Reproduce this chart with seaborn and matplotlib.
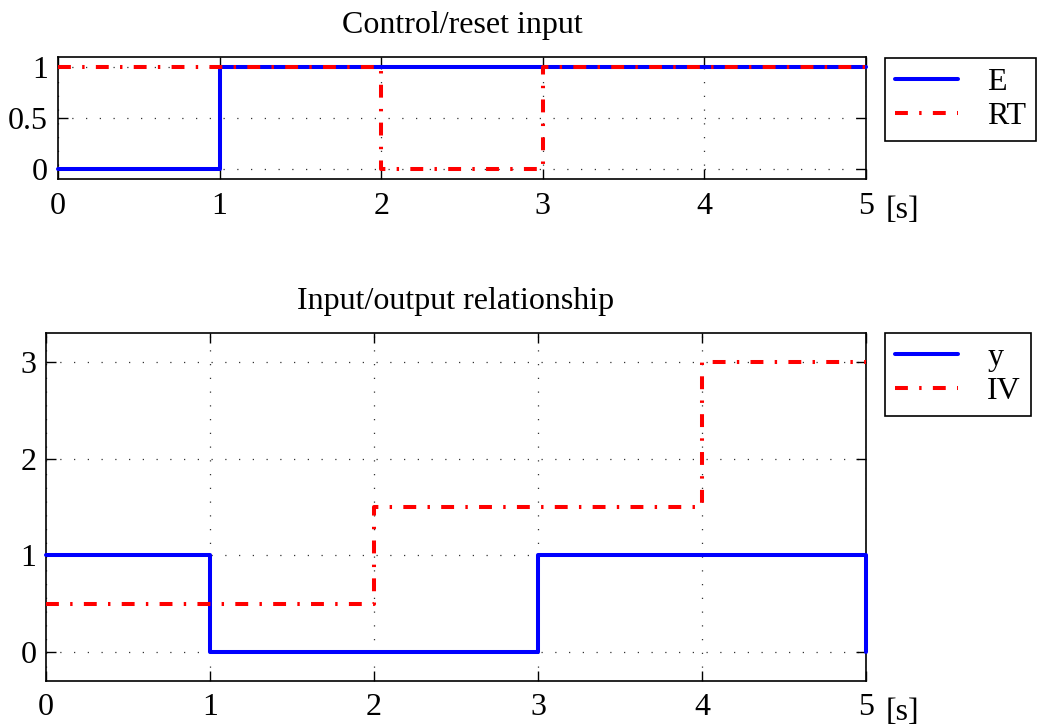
import matplotlib
matplotlib.use("Agg")
import matplotlib.pyplot as plt
import seaborn as sns
import pandas as pd

# ---- data ----
t_E = [0, 1, 5]
E = [0, 1, 1]
t_RT = [0, 2, 3, 5]
RT = [1, 0, 1, 1]
t_y = [0, 1, 3, 5, 5]
y = [1, 0, 1, 1, 0]
t_IV = [0, 2, 4, 5]
IV = [0.5, 1.5, 3, 3]
xticks = [0, 1, 2, 3, 4, 5]
yticks_top = [0, 0.5, 1]
ytick_labels_top = ["0", "0.5", "1"]
yticks_bot = [0, 1, 2, 3]
title_top = "Control/reset input"
title_bot = "Input/output relationship"
unit = "[s]"

sns.set_theme(style="white")
plt.rcParams["font.family"] = ["Liberation Serif", "DejaVu Serif"]
plt.rcParams["text.color"] = "black"
plt.rcParams["xtick.color"] = "black"
plt.rcParams["ytick.color"] = "black"
plt.rcParams["axes.labelcolor"] = "black"
FS = 23

fig = plt.figure(figsize=(10.37, 7.25), dpi=100)
ax1 = fig.add_axes([0.0559, 0.7531, 0.7792, 0.1683])
ax2 = fig.add_axes([0.0444, 0.0607, 0.7907, 0.4800])

dashdot = (0, (3.2, 2.8, 0.6, 2.8))
LW = 2.9

def draw(ax, tb, vb, lb, tr, vr, lr):
    dfb = pd.DataFrame({"t": tb, "v": vb})
    dfr = pd.DataFrame({"t": tr, "v": vr})
    sns.lineplot(data=dfb, x="t", y="v", ax=ax, color="#0000ff", linewidth=LW,
                 drawstyle="steps-post", sort=False, estimator=None, label=lb, zorder=3)
    sns.lineplot(data=dfr, x="t", y="v", ax=ax, color="#ff0000", linewidth=LW,
                 drawstyle="steps-post", sort=False, estimator=None, label=lr, zorder=4)
    ax.lines[-1].set_linestyle(dashdot)
    for ln in ax.lines:
        ln.set_linewidth(LW)
        ln.set_clip_on(False)

draw(ax1, t_E, E, "E", t_RT, RT, "RT")
draw(ax2, t_y, y, "y", t_IV, IV, "IV")

ax1.set_ylim(-0.1, 1.1)
ax2.set_ylim(-0.3, 3.3)
ax1.set_yticks(yticks_top)
ax1.set_yticklabels(ytick_labels_top)
ax2.set_yticks(yticks_bot)

for ax, title, top in [(ax1, title_top, 0.92), (ax2, title_bot, 0.5407)]:
    ax.set_xlim(0, 5)
    ax.set_xticks(xticks)
    ax.set_xlabel("")
    ax.set_ylabel("")
    ax.set_title(title, fontsize=FS, pad=17, color="black")
    ax.grid(True, color="0.2", linestyle=(0, (1, 10)), linewidth=0.9)
    ax.tick_params(axis="both", direction="in", length=7, width=1, labelsize=FS,
                   top=True, right=True, bottom=True, left=True, color="black",
                   labelcolor="black")
    ax.tick_params(axis="x", pad=9)
    ax.tick_params(axis="y", pad=7)
    for s in ax.spines.values():
        s.set_color("black")
        s.set_linewidth(1.2)
        s.set_visible(True)
    ax.annotate(unit, xy=(1, 0), xycoords="axes fraction", xytext=(14, -12),
                textcoords="offset points", ha="left", va="top", fontsize=FS, color="black")
    leg = ax.legend(loc="upper left", bbox_to_anchor=(0.8534, top), bbox_transform=fig.transFigure,
                    fontsize=FS, frameon=True, fancybox=False, handlelength=2.0,
                    handletextpad=0.9, labelspacing=0.15, borderpad=0.3, borderaxespad=0)
    for t in leg.get_texts():
        t.set_color("black")
    leg.get_frame().set_edgecolor("black")
    leg.get_frame().set_linewidth(1.2)
    leg.get_frame().set_facecolor("white")
    leg.get_frame().set_alpha(1)

fig.savefig("out.png", dpi=100, facecolor="white")
